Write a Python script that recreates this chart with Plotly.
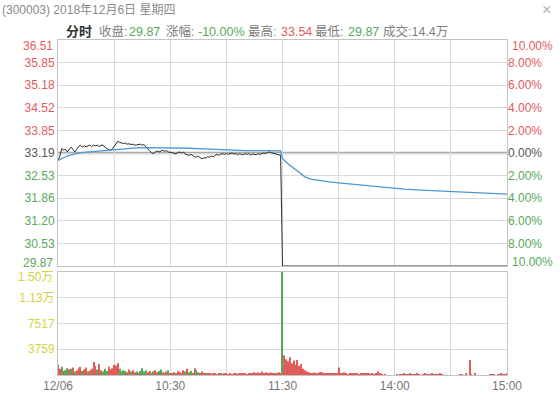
import plotly.graph_objects as go

# ---------------- data ----------------
PREV_CLOSE = 33.19
STOCK_TITLE = "(300003) 2018年12月6日 星期四"
TURNOVER_TEXT = "14.4万"

# minute index 0 = 9:30, 120 = 11:30 / 13:00, 240 = 15:00
PRICE_AM = [
    32.97, 33.10, 33.32, 33.28, 33.30, 33.22, 33.30, 33.36, 33.30, 33.22,
    33.30, 33.38, 33.42, 33.36, 33.40, 33.37, 33.40, 33.42, 33.38, 33.42,
    33.40, 33.42, 33.38, 33.42, 33.42, 33.36, 33.32, 33.30, 33.27, 33.30,
    33.37, 33.46, 33.54, 33.50, 33.48, 33.47, 33.48, 33.45, 33.46, 33.44,
    33.45, 33.42, 33.43, 33.44, 33.45, 33.42, 33.44, 33.37, 33.30, 33.25,
    33.20, 33.17, 33.22, 33.25, 33.22, 33.25, 33.27, 33.24, 33.26, 33.22,
    33.22, 33.20, 33.18, 33.17, 33.20, 33.22, 33.19, 33.22, 33.16, 33.14,
    33.12, 33.15, 33.10, 33.08, 33.07, 33.10, 33.05, 33.02, 33.05, 33.04,
    33.08, 33.07, 33.10, 33.08, 33.12, 33.15, 33.12, 33.16, 33.17, 33.15,
    33.18, 33.15, 33.17, 33.19, 33.16, 33.17, 33.14, 33.17, 33.15, 33.14,
    33.17, 33.15, 33.17, 33.13, 33.16, 33.14, 33.14, 33.17, 33.15, 33.17,
    33.19, 33.18, 33.21, 33.22, 33.20, 33.18, 33.17, 33.15, 33.14, 33.12,
]
PRICE_PM = [29.87] * 121  # limit-down from 11:30 to 15:00

AVG_MIN = [0, 2, 4, 6, 10, 14, 18, 25, 30, 35, 42, 48, 55, 62, 70, 78, 85, 92,
           100, 110, 119, 120, 121, 122, 124, 126, 128, 130, 132, 135, 140, 145,
           150, 158, 167, 176, 185, 194, 203, 212, 221, 230, 240]
AVG_VAL = [32.97, 33.03, 33.08, 33.12, 33.18, 33.21, 33.23, 33.27, 33.29, 33.32,
           33.34, 33.35, 33.35, 33.34, 33.33, 33.31, 33.29, 33.27, 33.26, 33.26,
           33.25, 33.03, 32.97, 32.92, 32.83, 32.74, 32.65, 32.56, 32.49, 32.42,
           32.37, 32.34, 32.31, 32.27, 32.21, 32.17, 32.13, 32.10, 32.08, 32.06,
           32.03, 32.01, 31.98]

VOLUME = [
    1500, 900, 1200, 600, 700, 1000, 800, 900, 1100, 500,
    700, 1000, 1200, 600, 800, 1100, 500, 700, 900, 1900,
    1300, 800, 1600, 700, 500, 900, 600, 1200, 800, 1000,
    1500, 1400, 1700, 900, 500, 700, 600, 400, 800, 500,
    700, 400, 500, 300, 600, 1000, 500, 700, 400, 600,
    300, 500, 700, 400, 600, 800, 400, 300, 500, 700,
    300, 200, 400, 300, 600, 400, 300, 700, 500, 900,
    400, 600, 300, 1000, 700, 400, 300, 500, 200, 300,
    150, 250, 100, 200, 150, 100, 200, 150, 100, 250,
    150, 100, 200, 100, 150, 200, 100, 150, 300, 200,
    150, 100, 200, 250, 300, 400, 200, 350, 300, 500,
    250, 400, 300, 200, 350, 300, 250, 200, 400, 300,
    15034,
    2900, 2300, 2000, 2600, 1700, 2100, 1500, 2200, 1300, 1600,
    900, 700, 500, 400, 300, 250, 350, 300, 200, 450,
    400, 250, 300, 200, 150, 250, 200, 150, 300, 1100,
    200, 300, 400, 150, 100, 250, 150, 200, 300, 250,
    100, 150, 200, 150, 250, 200, 100, 150, 100, 200,
    500, 150, 100, 0, 50, 0, 0, 0, 0, 0,
    50, 0, 100, 50, 150, 100, 50, 150, 100, 50,
    100, 150, 100, 0, 100, 150, 100, 50, 100, 150,
    100, 50, 100, 150, 100, 0, 0, 0, 0, 0,
    0, 0, 0, 0, 50, 100, 0, 150, 0, 2200,
    100, 0, 150, 0, 0, 0, 0, 0, 0, 0,
    50, 100, 50, 0, 100, 50, 150, 100, 50, 200,
]
VOL_SIDE = ("rrgrggrgrg" "rrrgrrgrrr" "rgrrgggrrr" "rrrggggrrg" "rrgrggggrr"
            "ggrrggrrrg" "rrrgrrrrgr" "ggrrggrrrg" "rrrrrrrgrr" + "r" * 30
            + "g" + "r" * 120)

PRICE_TICK_LABELS = ["29.87", "30.53", "31.20", "31.86", "32.53", "33.19",
                     "33.85", "34.52", "35.18", "35.85", "36.51"]
PCT_TICK_LABELS = ["10.00%", "8.00%", "6.00%", "4.00%", "2.00%", "0.00%",
                   "2.00%", "4.00%", "6.00%", "8.00%", "10.00%"]
VOL_TICK_LABELS = ["3759", "7517", "1.13万", "1.50万"]
X_TICK_LABELS = ["12/06", "", "10:30", "", "11:30", "", "14:00", "", "15:00"]

# ---------------- styling ----------------
FONT = "Liberation Sans, Arial, Noto Sans CJK SC, sans-serif"
RED = "#e25c5c"
GREEN = "#58a858"
NEUTRAL = "#555555"
YELLOW = "#d4d43e"
GRID = "#dadada"
BORDER = "#c4c4c4"
LABEL_GRAY = "#808080"

W, H = 560, 393
ML, MR, MT, MB = 58, 53, 40, 18
PW, PH = W - ML - MR, H - MT - MB


def px_x(px):
    return (px - ML) / PW


def px_y(py):
    return (H - MB - py) / PH


PRICE = PRICE_AM + PRICE_PM
minutes = list(range(len(PRICE)))
vmax = max(VOLUME)
lo, hi = PREV_CLOSE * 0.9, PREV_CLOSE * 1.1
steps = [-5, -4, -3, -2, -1, 0, 1, 2, 3, 4, 5]
price_ticks = [PREV_CLOSE * (1 + 0.02 * k) for k in steps]


def tcolor(k):
    return RED if k > 0 else (GREEN if k < 0 else NEUTRAL)


left_text = [f"<span style='color:{tcolor(k)}'>{t}</span>"
             for k, t in zip(steps, PRICE_TICK_LABELS)]
right_text = [f"<span style='color:{tcolor(k)}'>{t}</span>"
              for k, t in zip(steps, PCT_TICK_LABELS)]

fig = go.Figure()
fig.add_trace(go.Scatter(x=minutes, y=PRICE, mode="lines",
                         line=dict(color="#2b2b2b", width=1),
                         xaxis="x", yaxis="y", hoverinfo="skip"))
fig.add_trace(go.Scatter(x=AVG_MIN, y=AVG_VAL, mode="lines",
                         line=dict(color="#4b97d3", width=1.3),
                         xaxis="x", yaxis="y", hoverinfo="skip"))
# invisible copy so that the right-hand percentage axis is drawn
fig.add_trace(go.Scatter(x=minutes, y=PRICE, mode="lines", opacity=0,
                         line=dict(width=0), xaxis="x", yaxis="y2",
                         hoverinfo="skip"))
fig.add_trace(go.Bar(x=minutes, y=VOLUME,
                     marker=dict(color=[RED if s == "r" else GREEN for s in VOL_SIDE],
                                 line=dict(width=0)),
                     xaxis="x2", yaxis="y3", hoverinfo="skip"))

price_dom = [px_y(266), 1]
vol_dom = [0, px_y(272)]
xticks = [0, 30, 60, 90, 120, 150, 180, 210, 240]

common_x = dict(range=[0, 240], tickvals=xticks, showgrid=True, gridcolor=GRID,
                gridwidth=1, zeroline=False, showline=True, linecolor=BORDER,
                mirror=True, ticks="", fixedrange=True, automargin=False)
fig.update_layout(
    width=W, height=H,
    margin=dict(l=ML, r=MR, t=MT, b=MB, autoexpand=False),
    paper_bgcolor="white", plot_bgcolor="white",
    showlegend=False, bargap=0.45,
    font=dict(family=FONT, size=12, color="#666666"),
    xaxis=dict(common_x, anchor="y", showticklabels=False),
    xaxis2=dict(common_x, anchor="y3", ticktext=X_TICK_LABELS,
                tickfont=dict(size=12, color="#777777"), matches="x"),
    yaxis=dict(domain=price_dom, range=[lo, hi], tickvals=price_ticks[1:-1],
               ticktext=left_text[1:-1], showgrid=True, gridcolor=GRID,
               zeroline=False, showline=True, linecolor=BORDER, mirror=True,
               ticks="", tickfont=dict(size=12), fixedrange=True, anchor="x",
               automargin=False),
    yaxis2=dict(domain=price_dom, range=[lo, hi], overlaying="y", side="right",
                tickvals=price_ticks[1:-1], ticktext=right_text[1:-1],
                showgrid=False, zeroline=False, showline=False, ticks="",
                tickfont=dict(size=12), fixedrange=True, anchor="x",
                automargin=False),
    yaxis3=dict(domain=vol_dom, range=[0, vmax],
                tickvals=[vmax / 4, vmax / 2, vmax * 3 / 4],
                ticktext=VOL_TICK_LABELS[:3], tickfont=dict(size=12, color=YELLOW),
                showgrid=True, gridcolor=GRID, zeroline=False, showline=True,
                linecolor=BORDER, mirror=True, ticks="", fixedrange=True,
                anchor="x2", automargin=False),
)

# previous close reference line
fig.add_shape(type="line", xref="x domain", yref="y", x0=0, x1=1,
              y0=PREV_CLOSE, y1=PREV_CLOSE, line=dict(color="#a9a9a9", width=2.5),
              layer="below")

ann = []
# end labels of the axes, pushed inside the panel
ann.append(dict(xref="paper", yref="y", x=0, y=hi, text=PRICE_TICK_LABELS[-1],
                xanchor="right", yanchor="middle", xshift=-3, yshift=-6,
                showarrow=False, font=dict(color=RED, size=12)))
ann.append(dict(xref="paper", yref="y", x=0, y=lo, text=PRICE_TICK_LABELS[0],
                xanchor="right", yanchor="middle", xshift=-3, yshift=3,
                showarrow=False, font=dict(color=GREEN, size=12)))
ann.append(dict(xref="paper", yref="y", x=1, y=hi, text=PCT_TICK_LABELS[-1],
                xanchor="left", yanchor="middle", xshift=3, yshift=-6,
                showarrow=False, font=dict(color=RED, size=12)))
ann.append(dict(xref="paper", yref="y", x=1, y=lo, text=PCT_TICK_LABELS[0],
                xanchor="left", yanchor="middle", xshift=3, yshift=4,
                showarrow=False, font=dict(color=GREEN, size=12)))
ann.append(dict(xref="paper", yref="y3", x=0, y=vmax, text=VOL_TICK_LABELS[3],
                xanchor="right", yanchor="middle", xshift=-3, yshift=-5,
                showarrow=False, font=dict(color=YELLOW, size=12)))

# header (summary line built from the data)
close = PRICE[-1]
chg = (close - PREV_CLOSE) / PREV_CLOSE * 100
high, low = max(PRICE), min(PRICE)
header_parts = [
    (64, "<b>分时</b>", "#333333", 13),
    (97, "收盘:", LABEL_GRAY, 12.5),
    (127, f"{close:.2f}", GREEN, 12.5),
    (164, "涨幅:", LABEL_GRAY, 12.5),
    (196, f"{chg:.2f}%", GREEN, 12.5),
    (246, "最高:", LABEL_GRAY, 12.5),
    (279, f"{high:.2f}", RED, 12.5),
    (313, "最低:", LABEL_GRAY, 12.5),
    (346, f"{low:.2f}", GREEN, 12.5),
    (381, f"成交:{TURNOVER_TEXT}", LABEL_GRAY, 12.5),
]
for px, txt, col, sz in header_parts:
    ann.append(dict(xref="paper", yref="paper", x=px_x(px), y=px_y(32), text=txt,
                    xanchor="left", yanchor="middle", showarrow=False,
                    font=dict(size=sz, color=col)))
ann.append(dict(xref="paper", yref="paper", x=px_x(0), y=px_y(10), text=STOCK_TITLE,
                xanchor="left", yanchor="middle", showarrow=False,
                font=dict(size=12, color="#8a8a8a")))
ann.append(dict(xref="paper", yref="paper", x=px_x(546), y=px_y(10), text="×",
                xanchor="center", yanchor="middle", showarrow=False,
                font=dict(size=16, color="#b0b0b0")))
fig.update_layout(annotations=ann)

fig.write_html("out.html", config={"displayModeBar": False})
